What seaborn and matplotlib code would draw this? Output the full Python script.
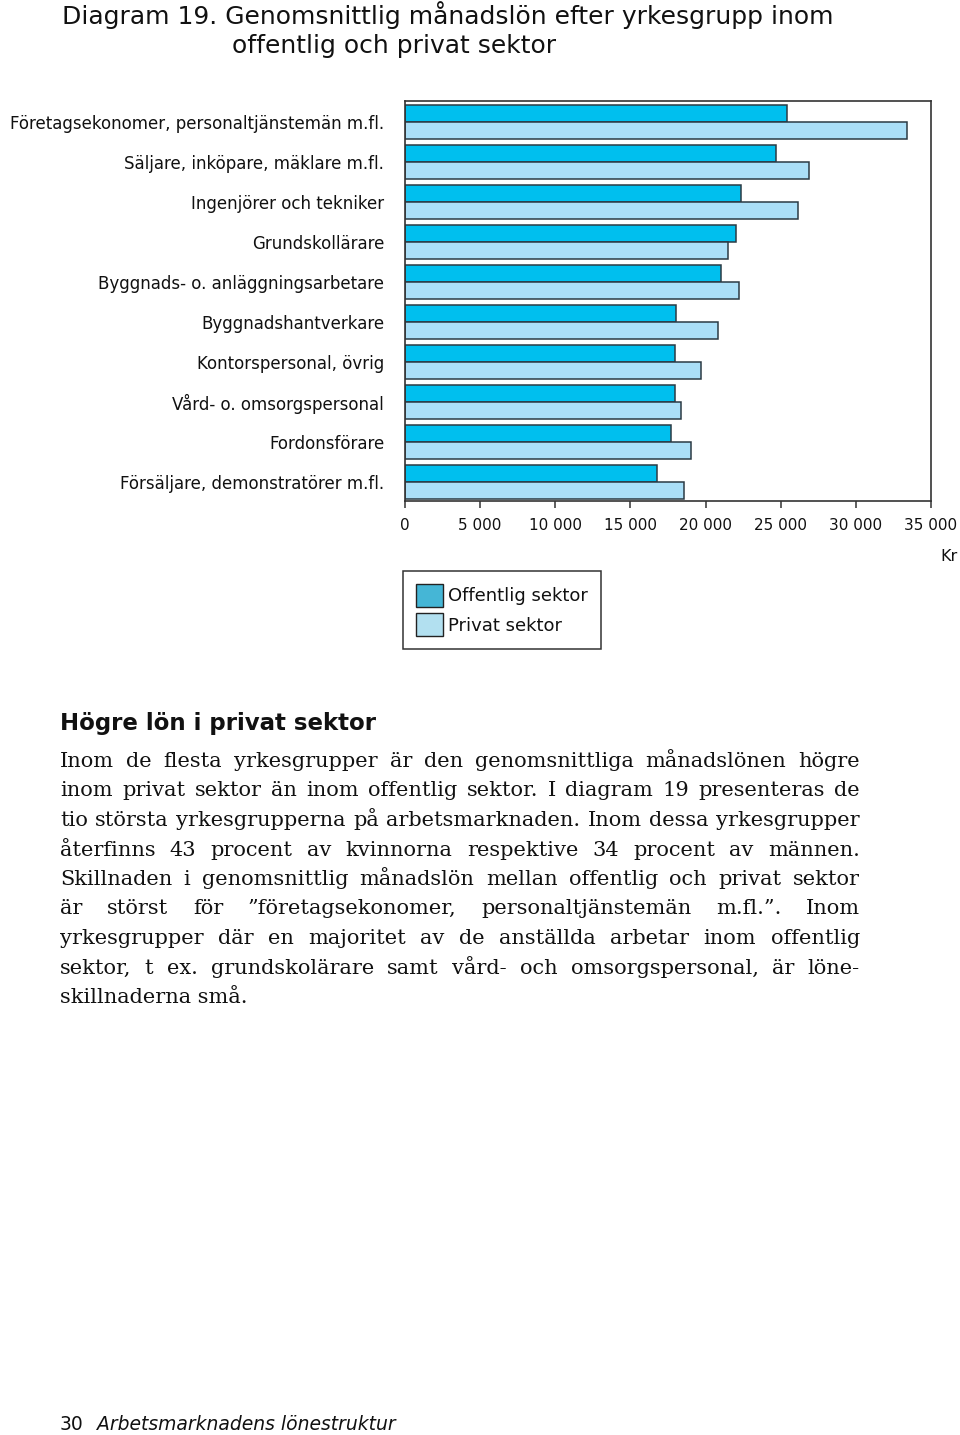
import pandas as pd
import matplotlib
matplotlib.use("Agg")
import matplotlib.pyplot as plt
from matplotlib.patches import Patch
from matplotlib.ticker import FuncFormatter
import seaborn as sns

# data
yrken = ['Företagsekonomer, personaltjänstemän m.fl.', 'Säljare, inköpare, mäklare m.fl.',
         'Ingenjörer och tekniker', 'Grundskollärare', 'Byggnads- o. anläggningsarbetare',
         'Byggnadshantverkare', 'Kontorspersonal, övrig', 'Vård- o. omsorgspersonal',
         'Fordonsförare', 'Försäljare, demonstratörer m.fl.']
offentlig = [25450, 24700, 22350, 22000, 21000, 18000, 17970, 17940, 17720, 16750]
privat = [33430, 26870, 26180, 21520, 22250, 20800, 19710, 18360, 19050, 18580]
sektorer = ['Offentlig sektor', 'Privat sektor']
xticks = [0, 5000, 10000, 15000, 20000, 25000, 30000, 35000]

body = [
    "Inom de flesta yrkesgrupper är den genomsnittliga månadslönen högre",
    "inom privat sektor än inom offentlig sektor. I diagram 19 presenteras de",
    "tio största yrkesgrupperna på arbetsmarknaden. Inom dessa yrkesgrupper",
    "återfinns 43 procent av kvinnorna respektive 34 procent av männen.",
    "Skillnaden i genomsnittlig månadslön mellan offentlig och privat sektor",
    "är störst för ”företagsekonomer, personaltjänstemän m.fl.”. Inom",
    "yrkesgrupper där en majoritet av de anställda arbetar inom offentlig",
    "sektor, t ex. grundskolärare samt vård- och omsorgspersonal, är löne-",
    "skillnaderna små.",
]

df = pd.DataFrame({
    'yrke': yrken * 2,
    'lon': offentlig + privat,
    'sektor': [sektorer[0]] * len(yrken) + [sektorer[1]] * len(yrken),
})

sns.set_theme(style="white")
plt.rcParams['font.family'] = ['DejaVu Sans']

W, H = 960, 1435
fig = plt.figure(figsize=(W / 100, H / 100), dpi=100)
ax = fig.add_axes([405 / W, 1 - 501 / H, 526 / W, 400 / H])

bar_cols = ['#00bfee', '#aadff8']
sns.barplot(data=df, x='lon', y='yrke', hue='sektor', orient='h', ax=ax,
            palette=bar_cols, saturation=1, width=0.85, dodge=True,
            edgecolor='#2b3a44', linewidth=1.1, legend=False)

ax.set_xlim(0, 35000)
ax.set_ylim(9.48, -0.53)
ax.set_xticks(xticks)
ax.xaxis.set_major_formatter(FuncFormatter(lambda v, p: f"{int(v):,}".replace(",", " ")))
ax.set_xlabel('')
ax.set_ylabel('')
for s in ax.spines.values():
    s.set_visible(True)
    s.set_color('#333333')
    s.set_linewidth(1.2)
ax.tick_params(axis='x', bottom=True, length=5, width=1.1, color='#333333',
               pad=7, labelsize=11, labelcolor='#111111')
ax.tick_params(axis='y', left=False, length=0, pad=15, labelsize=12, labelcolor='#111111')

fig.text(958 / W, 1 - 556 / H, 'Kr', ha='right', va='center', fontsize=11.5, color='#111111')

# legend
handles = [Patch(facecolor='#45b6d6', edgecolor='#222222', linewidth=1.0),
           Patch(facecolor='#b2e0f0', edgecolor='#222222', linewidth=1.0)]
leg = fig.legend(handles, sektorer, loc='upper left', bbox_to_anchor=(403 / W, 1 - 571 / H),
                 frameon=True, fancybox=False, framealpha=1, edgecolor='#333333',
                 fontsize=13, handlelength=1.5, handleheight=1.6, handletextpad=0.3,
                 labelspacing=0.35, borderpad=0.7, borderaxespad=0)
leg.get_frame().set_linewidth(1.1)
for t in leg.get_texts():
    t.set_color('#111111')

# title
fig.text(62 / W, 1 - 15 / H, 'Diagram 19. Genomsnittlig månadslön efter yrkesgrupp inom',
         ha='left', va='center', fontsize=18, color='#111111')
fig.text(232 / W, 1 - 46 / H, 'offentlig och privat sektor',
         ha='left', va='center', fontsize=18, color='#111111')

# heading and body text
fig.text(60 / W, 1 - 730 / H, 'Högre lön i privat sektor', ha='left', va='baseline',
         fontsize=16.5, fontweight='bold', color='#111111')

renderer = fig.canvas.get_renderer()
serif = dict(family='DejaVu Serif', fontsize=15, color='#111111', va='baseline')
x0, x1 = 60, 860
for i, line in enumerate(body):
    y = 1 - (767 + i * 29.5) / H
    words = line.split(' ')
    if i == len(body) - 1:
        fig.text(x0 / W, y, line, ha='left', **serif)
        continue
    arts = [fig.text(0, y, w, ha='left', **serif) for w in words]
    widths = [a.get_window_extent(renderer).width for a in arts]
    gap = (x1 - x0 - sum(widths)) / (len(words) - 1)
    x = x0
    for a, w in zip(arts, widths):
        a.set_x(x / W)
        x += w + gap

# footer
fig.text(60 / W, 1 - 1430 / H, '30', ha='left', va='baseline', fontsize=13.5, color='#111111')
fig.text(97 / W, 1 - 1430 / H, 'Arbetsmarknadens lönestruktur', ha='left', va='baseline',
         fontsize=13.5, style='italic', color='#111111')

fig.savefig('out.png', dpi=100)
